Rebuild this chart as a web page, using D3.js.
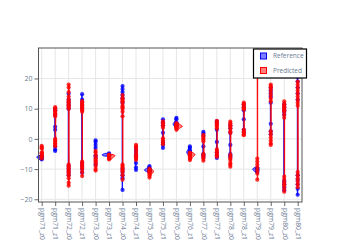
<!DOCTYPE html>
<html><head><meta charset="utf-8">
<script src="https://cdn.jsdelivr.net/npm/d3@7"></script>
<style>html,body{margin:0;padding:0;background:#fff;}svg{display:block;}</style>
</head><body>
<svg id="chart" width="343" height="246"></svg>
<script>
const categories = ["pgm71_z0","pgm71_z1","pgm72_z0","pgm72_z1","pgm73_z0","pgm73_z1","pgm74_z0","pgm74_z1","pgm75_z0","pgm75_z1","pgm76_z0","pgm76_z1","pgm77_z0","pgm77_z1","pgm78_z0","pgm78_z1","pgm79_z0","pgm79_z1","pgm80_z0","pgm80_z1"];
const seriesNames = ["Reference","Predicted"];
const refValues = [
  [-5.5,-5.8,-6,-6,-6.2,-6.5,-6.8],
  [10,9.5,8,4,3,-2.5,-3.5,-4],
  [15,13,12,11,10,-9,-10,-11,-12],
  [14.8,13,12,11,10,-8,-9,-10,-11.2],
  [-0.5,-1,-2,-3,-5.5,-6,-8.5],
  [-4.8,-5,-5.2,-5.3,-5.3,-5.4,-5.5,-5.7],
  [17.5,16.5,15.5,14.5,13.5,12,-10,-11,-12,-13,-16.9],
  [-3,-4,-5,-5.5,-6,-8,-9.5,-10.3],
  [-9,-9.5,-10,-10.2,-10.3,-10.4,-10.6,-11],
  [6.5,5.5,4.5,2,-1,-2,-3],
  [7,6.5,5.5,5,5,4.8,4.5,4],
  [-2.5,-3,-3.8,-4.2,-4.4,-4.5,-4.8,-5.5],
  [2.3,1.8,1,-2.5,-5,-5.5,-6],
  [5.8,5,3,-1,-4.5,-5.5,-6.3],
  [4.5,3.5,2,-2,-5,-5.5,-6],
  [11.5,10.5,9.5,6.5,3,2],
  [-9.5,-9.8,-10,-10.1,-10.3,-10.6,-11],
  [17,16,15,14,12,5,2.5,1.5],
  [11.5,10.5,9.5,9,8,-14,-15,-16,-17],
  [20.5,19,17,15,13,-12,-13.5,-15,-16.5,-18.5]
];
const predValues = [
  [-2.3,-2.8,-3.2,-4.5,-4.8,-5.5,-6,-6.5],
  [10.5,10,9.5,9,8.5,8,7.5,0,-0.5,-1,-1.5,-2,-2.5],
  [18,17,15.5,14,13,12.5,12,11.5,11,10.5,10,-8.5,-9,-9.5,-10,-10.5,-11,-11.5,-12,-13,-14.5,-15.5],
  [12.5,12,11.5,11,10.5,10,9.5,9,-7.5,-8,-8.5,-9,-9.5,-10,-11,-12.3],
  [-4,-4.5,-5.5,-6.5,-7,-7.5,-8,-9,-10,-10.5],
  [-5.2,-5.4,-5.5,-5.6,-5.7,-5.8,-6.2,-6.5,-6.8],
  [14.5,13.5,13,12.5,12,11,10.5,10,9,7.5,-8.5,-9,-9.5,-10,-10.5,-11,-12,-13.5],
  [-2,-2.5,-3,-4,-5,-5.5,-6,-6.5,-7],
  [-9.8,-10.3,-10.6,-10.8,-10.9,-11,-11.5,-12,-12.8],
  [5.8,5.2,4.5,3.8,0.2,-0.5,-1.2,-1.8],
  [5.2,4.8,4.5,4.3,4.2,4.1,4,3.8,3.4,3],
  [-4.5,-4.8,-5,-5.2,-5.3,-5.4,-5.6,-6,-6.5,-7],
  [1.3,0.8,0.3,-0.2,-0.8,-5,-5.5,-6,-6.5,-7.2],
  [6,5.5,5,4.5,4,3.5,-3.5,-4,-4.5,-5,-5.5,-6],
  [5.7,5.2,4.5,4,3.5,2.5,2,-5.3,-6,-6.5,-7,-8,-8.5,-9.2],
  [12,11.5,11,10.5,10,9.8,3,2.5,2,1.5,1.2],
  [26.5,25,24,23,22,21,-6.5,-7.5,-8.5,-9.5,-10.5,-11.5,-13.5],
  [18,17.5,17,16.5,15.5,14.5,13.5,12.5,2.5,1.5,0.5,-0.5,-1.5,-2],
  [12.4,11.5,11,10.5,10,9.5,9,8,7,-12.5,-13.5,-14.5,-15,-15.5,-16.5,-17.5],
  [19,18,17,16,15,14,13,12,11,-11,-12,-13,-14,-15,-16]
];
const yTicks = [-20,-10,0,10,20];
const yDomain = [-20.9, 30.1];

const svg = d3.select("#chart");
const plot = {left:38.5, right:302, top:48, bottom:202};
const x = d3.scalePoint().domain(categories).range([41.7, 297.7]);
const y = d3.scaleLinear().domain(yDomain).range([plot.bottom, plot.top]);
const colors = {Reference:"#0000ff", Predicted:"#ff0000"};
const sides = {Reference:-1, Predicted:1};
const fontFam = "'Open Sans', 'Noto Sans', sans-serif";
const textColor = "#6b7b93";

// grid
const g = svg.append("g");
g.selectAll(".vg").data(categories).join("line")
  .attr("x1", d=>x(d)).attr("x2", d=>x(d)).attr("y1", plot.top).attr("y2", plot.bottom)
  .attr("stroke", "#e6e6e6").attr("stroke-width", 1);
g.selectAll(".hg").data(yTicks).join("line")
  .attr("x1", plot.left).attr("x2", plot.right).attr("y1", d=>y(d)).attr("y2", d=>y(d))
  .attr("stroke", "#e6e6e6").attr("stroke-width", 1);

// axes
const yAxis = d3.axisLeft(y).tickValues(yTicks).tickSize(4).tickPadding(2)
  .tickFormat(d => (d < 0 ? "\u2212" + Math.abs(d) : String(d)));
const ya = svg.append("g").attr("transform", `translate(${plot.left},0)`).call(yAxis);
ya.select(".domain").remove();
ya.selectAll("line").attr("stroke", "#666");
ya.selectAll("text").attr("fill", textColor).style("font-family", fontFam).style("font-size", "7px");

const xAxis = d3.axisBottom(x).tickSize(4).tickPadding(2);
const xa = svg.append("g").attr("transform", `translate(0,${plot.bottom})`).call(xAxis);
xa.select(".domain").remove();
xa.selectAll("line").attr("stroke", "#666");
xa.selectAll("text").attr("fill", textColor).style("font-family", fontFam).style("font-size", "6.8px")
  .attr("text-anchor", "start").attr("dy", "0.32em")
  .attr("transform", "translate(0,6) rotate(90)").attr("x", 0).attr("y", 0);

// KDE
function kde(vals) {
  const n = vals.length;
  const sd = d3.deviation(vals) || 0.5;
  const s = vals.slice().sort(d3.ascending);
  const iqr = d3.quantile(s, 0.75) - d3.quantile(s, 0.25);
  let m = Math.min(sd, iqr / 1.349);
  if (!(m > 0)) m = sd;
  const bw = Math.max(1.059 * m * Math.pow(n, -0.2), 0.35);
  const lo = d3.min(vals), hi = d3.max(vals);
  const pts = d3.range(0, 121).map(i => lo + (hi - lo) * i / 120);
  return pts.map(v => [v, d3.sum(vals, u => Math.exp(-0.5 * ((v - u) / bw) ** 2)) / (bw * Math.sqrt(2 * Math.PI))]);
}
const seriesData = {Reference: refValues, Predicted: predValues};
const dens = {};
let gmax = 0;
seriesNames.forEach(s => {
  dens[s] = seriesData[s].map(v => kde(v));
  dens[s].forEach(arr => arr.forEach(p => { if (p[1] > gmax) gmax = p[1]; }));
});
const w = d3.scaleLinear().domain([0, gmax]).range([0, 7]);

seriesNames.forEach(s => {
  const gs = svg.append("g");
  categories.forEach((c, i) => {
    const cx = x(c);
    const area = d3.area()
      .y(d => y(d[0]))
      .x0(cx)
      .x1(d => cx + sides[s] * Math.max(w(d[1]), 0.4));
    gs.append("path").datum(dens[s][i]).attr("d", area)
      .attr("fill", colors[s]).attr("fill-opacity", 0.5)
      .attr("stroke", colors[s]).attr("stroke-width", 1);
    gs.selectAll(null).data(seriesData[s][i]).join("circle")
      .attr("cx", cx).attr("cy", d => y(d)).attr("r", 2.1)
      .attr("fill", colors[s]).attr("fill-opacity", 0.8);
  });
});

// frame
svg.append("rect").attr("x", plot.left).attr("y", plot.top)
  .attr("width", plot.right - plot.left).attr("height", plot.bottom - plot.top)
  .attr("fill", "none").attr("stroke", "#555").attr("stroke-width", 1);

// legend
const lg = svg.append("g");
lg.append("rect").attr("x", 253.5).attr("y", 49).attr("width", 53).attr("height", 29)
  .attr("fill", "#fff").attr("stroke", "#000").attr("stroke-width", 1.2);
seriesNames.forEach((s, i) => {
  const yy = 56 + i * 14.5;
  lg.append("rect").attr("x", 260.5).attr("y", yy - 3).attr("width", 6).attr("height", 6)
    .attr("fill", colors[s]).attr("fill-opacity", 0.5).attr("stroke", colors[s]).attr("stroke-width", 1);
  lg.append("text").attr("x", 273).attr("y", yy).attr("dy", "0.35em").text(s)
    .attr("fill", textColor).style("font-family", fontFam).style("font-size", "6.5px");
});
</script>
</body></html>
